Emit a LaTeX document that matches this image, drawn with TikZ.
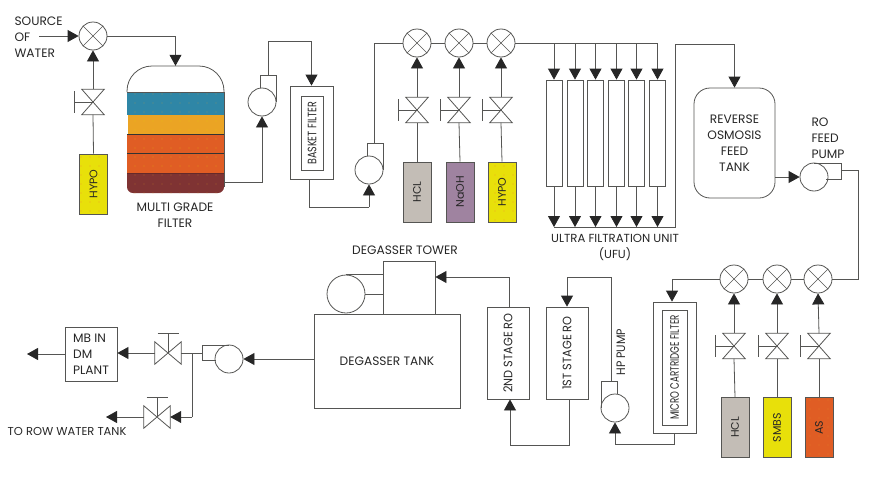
\documentclass[tikz,border=0pt]{standalone}
\usepackage{fontspec}
\usepackage{graphicx}
\setmainfont{Poppins}
\usetikzlibrary{arrows.meta,patterns.meta}
\definecolor{pipecol}{HTML}{555553}
\definecolor{bluelay}{HTML}{2F86A6}
\definecolor{amberlay}{HTML}{EBA424}
\definecolor{orangelay}{HTML}{E05D24}
\definecolor{brownlay}{HTML}{7F3333}
\definecolor{yellowtk}{HTML}{E8E00A}
\definecolor{greytk}{HTML}{C3BDB6}
\definecolor{purpletk}{HTML}{9F83A0}
\tikzset{
	every node/.style={font=\fontsize{12.2}{16}\selectfont,text=black!85},
	pipe/.style={draw=pipecol,line width=0.8pt},
	flow/.style={pipe,-{Triangle[length=11pt,width=12pt,color=black!85]}},
	outline/.style={draw=pipecol,line width=0.8pt,inner sep=0pt},
	mixer/.style={outline,circle,minimum size=28pt,path picture={
		\draw[pipecol,line width=0.6pt] (path picture bounding box.north west) -- (path picture bounding box.south east);
		\draw[pipecol,line width=0.6pt] (path picture bounding box.south west) -- (path picture bounding box.north east);}},
	pumpbody/.style={outline,circle,minimum size=28pt},
	valvebody/.style={inner sep=0pt,minimum width=22pt,minimum height=25pt},
	hvalvebody/.style={inner sep=0pt,minimum width=26pt,minimum height=22pt},
	tankbox/.style={outline,minimum width=28pt,minimum height=60pt,font=\fontsize{11}{14}\selectfont},
	ufbox/.style={outline,minimum width=16pt,minimum height=106pt},
	robox/.style={outline,minimum width=42pt,minimum height=92pt},
	speck/.style={pattern={Dots[distance=9pt,radius=0.3pt]},pattern color=#1},
}
% upright text, squeezed along its length
\newcommand{\squeezed}[2]{\rotatebox{90}{\scalebox{#1}[1]{#2}}}
% valve with its hand wheel on the left
\newcommand{\vvalve}[2]{
	\node[valvebody] (#1) at (#2) {};
	\draw[pipe] (#1.north west) -- (#1.north east) -- (#1.south west) -- (#1.south east) -- cycle;
	\draw[pipe] (#1.center) -- ++(-19,0) ++(0,-11) -- ++(0,22);
}
% valve in a horizontal line, hand wheel on top
\newcommand{\hvalve}[2]{
	\node[hvalvebody] (#1) at (#2) {};
	\draw[pipe] (#1.north west) -- (#1.south west) -- (#1.north east) -- (#1.south east) -- cycle;
	\draw[pipe] (#1.center) -- ++(0,-20) ++(-10.5,0) -- ++(21,0);
}
\begin{document}
\begin{tikzpicture}[x=1pt,y=-1pt]
	\useasboundingbox (0,0) rectangle (870,490);
	%\draw[help lines] (0,0) grid[step=50] (870,490);

	% first line : source, filter, pumps
	\node[anchor=west,align=left] (srctxt) at (11,37) {SOURCE\\OF\\WATER};
	\coordinate (srcend) at (39,36);
	\node[mixer] (mx0) at (93,36) {};
	\vvalve{val0}{93,102}
	\node[tankbox,fill=yellowtk] (tk0) at (93.5,184) {\rotatebox{90}{HYPO}};
	\fill[speck=red!70] (80,154) rectangle (107,214);
	\draw[flow] (srcend) -- (mx0.west);
	\draw[pipe] (tk0.north) -- (val0.south);
	\draw[flow] (val0.north) -- (mx0.south);

	% the filter and its layers
	\node[inner sep=0pt,minimum width=97pt,minimum height=127pt] (mgf) at (175.5,129.5) {};
	\fill[brownlay,rounded corners=6pt] (127,160) rectangle (224,193);
	\fill[speck=amberlay] (127,173) rectangle (224,193);
	\fill[bluelay] (127,92) rectangle (224,115);
	\fill[speck=amberlay] (127,92) rectangle (224,115);
	\fill[amberlay] (128,115) rectangle (224,134);
	\fill[orangelay] (127,134) rectangle (224,153);
	\fill[orangelay] (127,153) rectangle (224,173);
	\fill[speck=yellowtk] (127,115) rectangle (224,173);
	\draw[pipe,black!80] (127,134) -- (224,134);
	\draw[pipe,black!80] (127,153) -- (224,153);
	\draw[pipe,brownlay!80!black] (127,173) -- (224,173);
	\draw[pipe,rounded corners=25pt] (127,92) -- (127,66) -- (224,66) -- (224,92);
	\draw[pipe] (127,92) -- (224,92);
	\draw[pipe] (224,92) -- (224,187);
	\node[align=center] (mgftxt) at (175,215) {MULTI GRADE\\FILTER};
	\draw[flow] (mx0.east) -| (mgf.north);
	\coordinate (mgfout) at (224,182);

	\node[pumpbody] (pu1) at (262,102) {};
	\draw[pipe] (260,88) -- (260,75) -- (276,75) -- (276,102);
	\coordinate (pu1o) at (268,75);
	\coordinate (jn1) at (290,41);
	\draw[flow] (mgfout) -| (pu1.south);

	\node[outline,minimum width=43pt,minimum height=93pt] (basket) at (311.5,132.5) {};
	\node[outline,minimum width=22pt,minimum height=74pt] (bskin) at (312,133) {\squeezed{.78}{BASKET FILTER}};
	\draw[pipe] (pu1o) |- (jn1);
	\draw[flow] (jn1) -| (basket.north);

	\node[pumpbody] (pu2) at (369,170) {};
	\draw[pipe] (367,156) -- (367,143) -- (383,143) -- (383,170);
	\coordinate (pu2o) at (374,143);
	\coordinate (jn2) at (369,207);
	\draw[pipe] ([xshift=-2.5pt]basket.south) |- (jn2);
	\draw[flow] (jn2) -- (pu2.south);

	% dosing before the ultra filtration
	\node[mixer] (mx1) at (417,43) {};
	\node[mixer] (mx2) at (459,43) {};
	\node[mixer] (mx3) at (501,43) {};
	\vvalve{val1}{417,110}
	\vvalve{val2}{459,110}
	\vvalve{val3}{501,110}
	\node[tankbox,fill=greytk] (tk1) at (417,192) {\rotatebox{90}{HCL}};
	\node[tankbox,fill=purpletk] (tk2) at (460,192) {\rotatebox{90}{NaOH}};
	\node[tankbox,fill=yellowtk] (tk3) at (502,192) {\rotatebox{90}{HYPO}};
	\fill[speck=red!70] (488,162) rectangle (516,222);
	\draw[pipe] (pu2o) |- (mx1.west);
	\draw[pipe] (mx1.east) -- (mx2.west);
	\draw[pipe] (mx2.east) -- (mx3.west);
	\draw[pipe] (tk1.north) -- (val1.south);
	\draw[pipe] (tk2.north) -- (val2.south);
	\draw[pipe] (tk3.north) -- (val3.south);
	\draw[flow] (val1.north) -- (mx1.south);
	\draw[flow] (val2.north) -- (mx2.south);
	\draw[flow] (val3.north) -- (mx3.south);

	% ultra filtration unit
	\node[ufbox] (uf1) at (554,133) {};
	\node[ufbox] (uf2) at (575,133) {};
	\node[ufbox] (uf3) at (595.5,133) {};
	\node[ufbox] (uf4) at (616.5,133) {};
	\node[ufbox] (uf5) at (636.5,133) {};
	\node[ufbox] (uf6) at (657.5,133) {};
	\coordinate (hdr) at (657.5,43);
	\coordinate (clt) at (675,227);
	\coordinate (jn3) at (675,44);
	\draw[pipe] (mx3.east) -- (hdr);
	\draw[flow] (uf1.north |- hdr) -- (uf1.north);
	\draw[flow] (uf2.north |- hdr) -- (uf2.north);
	\draw[flow] (uf3.north |- hdr) -- (uf3.north);
	\draw[flow] (uf4.north |- hdr) -- (uf4.north);
	\draw[flow] (uf5.north |- hdr) -- (uf5.north);
	\draw[flow] (uf6.north |- hdr) -- (uf6.north);
	\draw[flow] (uf1.south) -- (uf1.south |- clt);
	\draw[flow] (uf2.south) -- (uf2.south |- clt);
	\draw[flow] (uf3.south) -- (uf3.south |- clt);
	\draw[flow] (uf4.south) -- (uf4.south |- clt);
	\draw[flow] (uf5.south) -- (uf5.south |- clt);
	\draw[flow] (uf6.south) -- (uf6.south |- clt);
	\node[align=center,font=\fontsize{11.7}{16}\selectfont] (uftxt) at (615,247) {ULTRA FILTRATION UNIT\\(UFU)};

	% reverse osmosis feed
	\node[outline,rounded corners=16pt,minimum width=81pt,minimum height=110pt,align=center] (rotank) at (734.5,143) {REVERSE\\OSMOSIS\\FEED\\TANK};
	\node[pumpbody] (pu3) at (814,177) {};
	\node[anchor=west,align=left] (putxt) at (808,138) {RO\\FEED\\PUMP};
	\draw[pipe] (814,163) -- (841,163) -- (841,179) -- (826,179);
	\coordinate (pu3o) at (841,170);
	\coordinate (jn4) at (858,170);
	\draw[pipe] (uf1.south |- clt) -- (clt) -- (jn3) -- (jn3 -| rotank.north);
	\draw[flow] (jn3 -| rotank.north) -- (rotank.north);
	\draw[flow] (rotank.east |- pu3.west) -- (pu3.west);

	% dosing before the cartridge filter
	\node[mixer] (mx4) at (734,279) {};
	\node[mixer] (mx5) at (777,279) {};
	\node[mixer] (mx6) at (818,279) {};
	\vvalve{val4}{734,346}
	\vvalve{val5}{777,346}
	\vvalve{val6}{819,346}
	\node[tankbox,fill=greytk] (tk4) at (735,427.5) {\rotatebox{90}{HCL}};
	\node[tankbox,fill=yellowtk] (tk5) at (777,427.5) {\rotatebox{90}{SMBS}};
	\node[tankbox,fill=orangelay] (tk6) at (819,427.5) {\rotatebox{90}{AS}};
	\fill[speck=amberlay] (805,397) rectangle (833,458);
	\draw[pipe] (pu3o) -- (jn4) |- (mx6.east);
	\draw[pipe] (mx6.west) -- (mx5.east);
	\draw[pipe] (mx5.west) -- (mx4.east);
	\draw[pipe] (tk4.north) -- (val4.south);
	\draw[pipe] (tk5.north) -- (val5.south);
	\draw[pipe] (tk6.north) -- (val6.south);
	\draw[flow] (val4.north) -- (mx4.south);
	\draw[flow] (val5.north) -- (mx5.south);
	\draw[flow] (val6.north) -- (mx6.south);

	\node[outline,minimum width=43pt,minimum height=131pt] (micro) at (674.5,367.5) {};
	\node[outline,minimum width=25pt,minimum height=115pt] (micin) at (674.5,367.5) {\squeezed{.71}{MICRO CARTRIDGE FILTER}};
	\draw[flow] (mx4.west) -| ([xshift=-2.5pt]micro.north);

	% high pressure and the two stages
	\node[pumpbody] (pu4) at (615,408) {};
	\node (hptxt) at (621,352) {\squeezed{.9}{HP PUMP}};
	\draw[pipe] (601,408) -- (601,381) -- (617,381) -- (617,394);
	\coordinate (pu4o) at (611,381);
	\coordinate (jn5) at (615,444);
	\coordinate (jn6) at (611,277);
	\draw[pipe] (micro.south) |- (jn5);
	\draw[flow] (jn5) -- (pu4.south);
	\node[robox] (ro1) at (567,353) {\squeezed{.93}{1ST STAGE RO}};
	\node[robox] (ro2) at (508,353) {\squeezed{.93}{2ND STAGE RO}};
	\coordinate (jn7) at (510,445);
	\draw[pipe] (pu4o) -- (jn6) -- (jn6 -| ro1.north);
	\draw[flow] (jn6 -| ro1.north) -- (ro1.north);
	\draw[pipe] ([xshift=2pt]ro1.south) |- (jn7);
	\draw[flow] (jn7) -- ([xshift=2pt]ro2.south);

	% degasser
	\node[outline,minimum width=52pt,minimum height=53pt] (tower) at (409,287.5) {};
	\node (towtxt) at (405,250) {DEGASSER TOWER};
	\node[outline,minimum width=146pt,minimum height=94pt] (degtank) at (387,361) {DEGASSER TANK};
	\node[outline,circle,minimum size=38pt] (blower) at (346,294) {};
	\draw[flow] ([xshift=1pt]ro2.north) |- ([yshift=10.5pt]tower.east);
	\draw[pipe] (blower.north) -- (blower.north -| tower.west);
	\draw[pipe] (blower.east) -- (blower.east -| tower.west);

	% to the plant and the water tank
	\node[pumpbody] (pu5) at (229,359) {};
	\draw[pipe] (229,345) -- (202,345) -- (202,360) -- (216,360);
	\coordinate (pu5o) at (202,353);
	\coordinate (jn9) at (192,353);
	\coordinate (endm) at (27,354);
	\coordinate (endw) at (106,417);
	\hvalve{hv1}{168,353}
	\hvalve{hv2}{157,417}
	\node[outline,minimum width=52pt,minimum height=54pt,align=left] (mb) at (91,354) {MB IN\\DM\\PLANT};
	\node[anchor=east,font=\fontsize{11.5}{16}\selectfont] (rowtxt) at (130,431) {TO ROW WATER TANK};
	\draw[flow] (degtank.west |- pu5.east) -- (pu5.east);
	\draw[pipe] (pu5o) -- (hv1.east);
	\draw[flow] (hv1.west) -- (hv1.west -| mb.east);
	\draw[flow] (mb.west) -- (endm);
	\draw[pipe] (jn9) -- (jn9 |- hv2.east);
	\draw[flow] (jn9 |- hv2.east) -- (hv2.east);
	\draw[flow] (hv2.west) -- (endw);
\end{tikzpicture}
\end{document}
